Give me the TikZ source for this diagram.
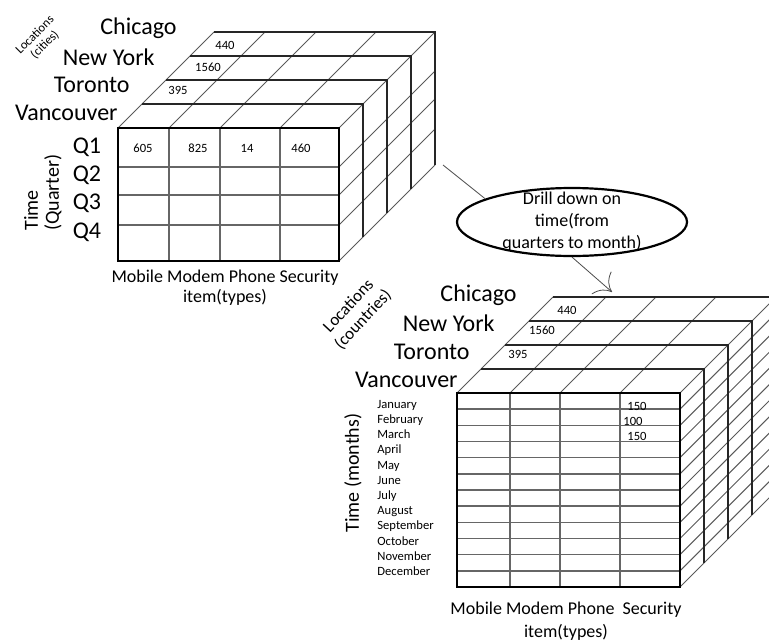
\documentclass[tikz,border=0pt]{standalone}
\usepackage{fontspec}
\setmainfont{Carlito}
\usetikzlibrary{positioning,arrows.meta,shapes.geometric,calc}
\tikzset{
city/.style={
anchor=east,
inner sep=0pt,
font=\fontsize{12}{14}\selectfont
},
axislabel/.style={
inner sep=0pt,
align=center,
font=\fontsize{9}{10}\selectfont
},
val/.style={
inner sep=0pt,
text height=4.4pt,
text depth=0.2pt,
font=\fontsize{6.3}{7}\selectfont
},
month/.style={
anchor=west,
inner sep=0pt,
text height=4.6pt,
text depth=1.3pt,
font=\fontsize{6.3}{7}\selectfont
},
cellline/.style={
draw=black!60,
line width=0.7pt
},
backline/.style={
draw=black!65,
line width=0.5pt
},
sliceline/.style={
draw=black!85,
line width=0.9pt
},
frontface/.style={
draw=black,
line width=1.4pt
},
bubble/.style={
draw,
ellipse,
line width=1.1pt,
minimum width=115pt,
minimum height=34pt,
inner sep=0pt
},
arrow/.style={
-{To[length=2.5mm]},
thin,
draw=black!70
}
}

\begin{document}
\begin{tikzpicture}[x=0.5pt,y=-0.5pt]
\clip (0,0) rectangle (769,642);

% upper cube (quarters)
\foreach \x in {169,220,280}
\draw[cellline](\x,128)--(\x,261);
\foreach \y in {167,195,225}
\draw[cellline](118,\y)--(339,\y);
\foreach \x in {118,169,220,280,339}
\draw[backline](\x,128)--++(96,-96);
\foreach \y in {167,195,225,261}
\draw[backline](339,\y)--++(96,-96);
\foreach \k in {1,...,4}
\draw[sliceline](118+24*\k,128-24*\k)--++(221,0)--++(0,133);
\draw[frontface](118,128) rectangle (339,261);

\node[city](chiA) at (177,28){Chicago};
\node[city](nyA) at (155,57){New York};
\node[city](torA) at (130,85){Toronto};
\node[city](vanA) at (118,113){Vancouver};
\foreach \q/\y in {1/147,2/175,3/203,4/232}
\node[city,anchor=center](q\q) at (87,\y){Q\q};

\node[axislabel,rotate=90,align=left,anchor=west,font=\fontsize{10}{10.5}\selectfont](timeA) at (43,231){Time\\(Quarter)};
\node[axislabel,rotate=45,font=\fontsize{6.3}{7}\selectfont](locA) at (40,40){Locations\\(cities)};

\node[val](vA1) at (143,148){605};
\node[val](vA2) at (198,148){825};
\node[val](vA3) at (247,148){14};
\node[val](vA4) at (301,148){460};
\node[val](tA1) at (225,45){440};
\node[val](tA2) at (208,67){1560};
\node[val](tA3) at (178,90){395};

\node[axislabel](itemA) at (225,288){Mobile Modem Phone Security\\item(types)};

% lower cube (months)
\foreach \x in {510,560,620}
\draw[cellline](\x,393)--(\x,587);
\foreach \i in {1,...,11}
\draw[cellline](457,393+16.1667*\i)--(680,393+16.1667*\i);
\foreach \x in {457,510,560,620,680}
\draw[backline](\x,393)--++(96,-96);
\foreach \i in {1,...,12}
\draw[backline](680,393+16.1667*\i)--++(96,-96);
\foreach \k in {1,...,4}
\draw[sliceline](457+24*\k,393-24*\k)--++(223,0)--++(0,194);
\draw[frontface](457,393) rectangle (680,587);

\node[city](chiB) at (517,295){Chicago};
\node[city](nyB) at (495,323){New York};
\node[city](torB) at (470,352){Toronto};
\node[city](vanB) at (458,380){Vancouver};

\node[axislabel,rotate=90,font=\fontsize{10}{11}\selectfont](timeB) at (353,473){Time (months)};
\node[axislabel,rotate=47,font=\fontsize{8.5}{10}\selectfont](locB) at (356,313){Locations\\(countries)};

\foreach \m [count=\i] in {January,February,March,April,May,June,July,August,September,October,November,December}
\node[month](m\i) at (377,{405+15.2*(\i-1)}){\m};

\node[val](vB1) at (637,406){150};
\node[val](vB2) at (633,421){100};
\node[val](vB3) at (637,436){150};
\node[val](tB1) at (567,310){440};
\node[val](tB2) at (542,330){1560};
\node[val](tB3) at (518,354){395};

\node[axislabel,font=\fontsize{9}{11.5}\selectfont](itemB) at (566,621){Mobile Modem Phone\ \ Security\\item(types)};

% drill down
\node[bubble,label={[align=center,font=\fontsize{9}{11}\selectfont]center:Drill down on\\time(from\\quarters to month)}](drill) at (572,222){};
\coordinate (fromA) at (443,165);
\coordinate (toB) at (612,292);
\draw[thin,black!70](fromA)--(drill.165);
\draw[arrow](drill.south)--(toB);
\end{tikzpicture}
\end{document}
